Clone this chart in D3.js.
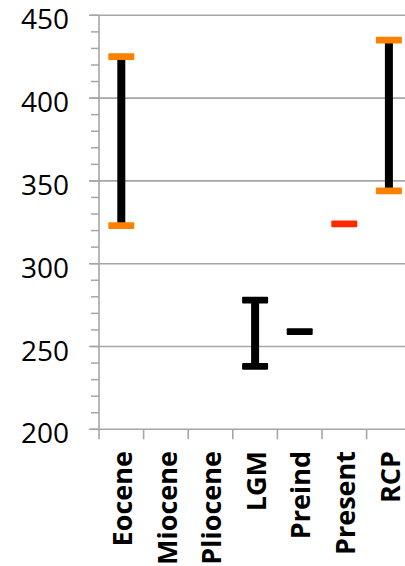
<!DOCTYPE html>
<html><head><meta charset="utf-8">
<script src="https://cdn.jsdelivr.net/npm/d3@7"></script>
<style>body{margin:0;background:#fff;overflow:hidden}svg{display:block}</style>
</head><body>
<svg id="c" width="405" height="566"></svg>
<script>
const categories = ["Eocene","Miocene","Pliocene","LGM","Preind","Present","RCP"];
const lowValues  = [323, null, null, 238, 259, 324, 344];
const highValues = [425, null, null, 278, 259, 324, 435];
const yTicks = [200, 250, 300, 350, 400, 450];

const capColor = {Eocene:"#ff8000", LGM:"#000", Preind:"#000", Present:"#ff2a00", RCP:"#ff8000"};

const svg = d3.select("#c");
const x = d3.scaleBand().domain(categories).range([99, 99 + 7*44.6]).padding(0);
const y = d3.scaleLinear().domain([200, 450]).range([429.3, 15.3]);
const grid = "#a6a6a6";

// minor ticks
const minor = d3.range(200, 451, 10);
svg.append("g").selectAll("line").data(minor).join("line")
  .attr("x1", 91).attr("x2", 99).attr("y1", d=>y(d)).attr("y2", d=>y(d))
  .attr("stroke", grid).attr("stroke-width", 1.5);
// gridlines + major ticks
svg.append("g").selectAll("line").data(yTicks).join("line")
  .attr("x1", 89).attr("x2", 405).attr("y1", d=>y(d)).attr("y2", d=>y(d))
  .attr("stroke", grid).attr("stroke-width", 1.6);
// y axis line
svg.append("line").attr("x1",99).attr("x2",99).attr("y1",y(450)).attr("y2",y(200))
  .attr("stroke", grid).attr("stroke-width", 1.6);
// x category ticks
const xt = categories.map(c=>x(c)).concat([x(categories[6]) + x.bandwidth()]);
svg.append("g").selectAll("line").data(xt).join("line")
  .attr("x1", d=>d).attr("x2", d=>d).attr("y1", y(200)).attr("y2", y(200)+10)
  .attr("stroke", grid).attr("stroke-width", 1.6);

// y labels
svg.append("g").selectAll("text").data(yTicks).join("text")
  .attr("x", 69).attr("y", d=>y(d)).attr("dy","0.5em")
  .attr("text-anchor","end").attr("font-family","Open Sans, sans-serif")
  .attr("font-size", 28).attr("fill","#000").text(d=>d);

// x labels
svg.append("g").selectAll("text").data(categories).join("text")
  .attr("transform", d=>`translate(${x(d)+x.bandwidth()/2+1},451) rotate(-90)`)
  .attr("dy","0.36em")
  .attr("text-anchor","end").attr("font-family","Open Sans, sans-serif")
  .attr("font-weight","bold").attr("font-size", 27).attr("fill","#000").text(d=>d);

// ranges
const data = categories.map((c,i)=>({c, lo: lowValues[i], hi: highValues[i]})).filter(d=>d.lo!=null);
const g = svg.append("g");
data.forEach(d=>{
  const cx = x(d.c) + x.bandwidth()/2;
  if (d.hi !== d.lo) {
    g.append("rect").attr("x", cx-4).attr("width", 8)
      .attr("y", y(d.hi)).attr("height", y(d.lo)-y(d.hi)).attr("fill","#000");
  }
  [d.hi, d.lo].filter((v,k)=>k===0 || d.hi!==d.lo).forEach(v=>{
    g.append("rect").attr("x", cx-13).attr("width", 26)
      .attr("y", y(v)-3.4).attr("height", 6.8).attr("rx", 1)
      .attr("fill", capColor[d.c]);
  });
});
</script>
</body></html>
